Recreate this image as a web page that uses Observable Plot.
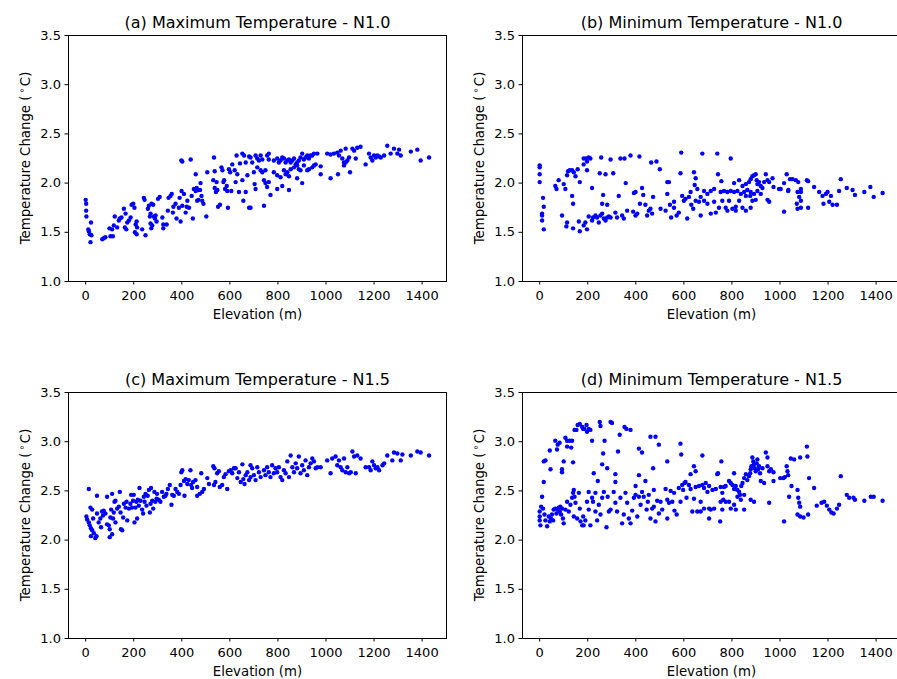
<!DOCTYPE html>
<html>
<head>
<meta charset="utf-8">
<script src="https://cdn.jsdelivr.net/npm/d3@7"></script>
<script src="https://cdn.jsdelivr.net/npm/@observablehq/plot@0.6"></script>
<style>
  html, body { margin: 0; padding: 0; background: #fff; }
  #wrap { position: relative; width: 897px; height: 679px; overflow: hidden; background: #fff; }
  .panel { position: absolute; width: 448px; height: 330px; }
  .panel svg { max-width: none !important; }
</style>
</head>
<body>
<div id="wrap"></div>
<script>
// ---- Data: [elevation (m), temperature change (°C)] ----
const maxN10 = [
[0,1.83],[2,1.79],[2,1.72],[3,1.66],[22,1.60],[11,1.53],[13,1.51],[17,1.48],[24,1.47],[20,1.40],
[69,1.43],[75,1.44],[82,1.45],[103,1.46],[113,1.46],[99,1.54],[110,1.53],[117,1.57],[121,1.66],[131,1.55],[138,1.62],[142,1.64],[149,1.65],[159,1.74],[166,1.69],[163,1.55],[169,1.53],[173,1.60],[180,1.62],[187,1.65],[191,1.78],[198,1.79],[203,1.75],[212,1.61],[208,1.58],[214,1.55],[205,1.50],[212,1.48],[235,1.53],[242,1.85],[245,1.83],[249,1.47],[259,1.74],[263,1.77],[270,1.69],[267,1.66],[274,1.79],[281,1.78],[284,1.66],[288,1.64],[291,1.67],[295,1.61],[270,1.59],[277,1.57],[273,1.54],[301,1.84],[308,1.86],[319,1.65],[323,1.58],[323,1.54],[337,1.58],[342,1.72],[345,1.85],[353,1.87],[358,1.89],[365,1.76],[363,1.70],[374,1.79],[378,1.64],[388,1.75],[391,1.85],[395,1.61],[399,1.92],[402,1.77],[409,1.89],[416,1.70],[423,1.82],[420,1.76],[430,1.75],[441,1.87],[446,1.64],[450,1.94],[458,1.92],[464,1.82],[469,1.83],[476,1.93],[478,2.00],[482,1.87],[485,1.82],[490,1.79],[502,1.66],[506,2.11],[458,2.09],[462,1.95],[469,1.93],[398,2.23],[402,2.22],[437,2.24],[534,2.26],[537,2.12],[531,2.03],[537,1.95],[545,2.01],[542,1.91],[548,1.93],[551,1.76],[559,1.78],[565,2.16],[569,2.13],[573,2.01],[576,2.03],[580,1.94],[587,1.97],[589,1.92],[592,1.75],[596,2.14],[601,2.11],[606,1.92],[610,2.19],[620,2.13],[624,2.01],[628,2.28],[631,2.09],[638,1.91],[642,2.20],[652,2.30],[652,2.03],[656,1.82],[659,2.28],[666,2.21],[666,1.91],[673,2.08],[680,1.75],[680,2.27],
[686,2.26],[693,2.21],[707,2.28],[714,2.25],[721,2.23],[728,2.28],[735,2.24],[755,2.28],[762,2.30],[762,2.24],[783,2.23],[797,2.25],[804,2.21],[811,2.23],[818,2.26],[825,2.25],[832,2.21],[839,2.23],[846,2.24],[853,2.21],[860,2.23],[867,2.25],[874,2.19],[880,2.21],[887,2.23],[894,2.26],[901,2.30],[908,2.24],[915,2.26],[922,2.28],[929,2.25],[936,2.28],[943,2.28],[950,2.30],[964,2.30],
[700,2.11],[714,2.16],[728,2.13],[735,2.11],[748,2.13],[783,2.11],[797,2.08],[811,2.06],[825,2.13],[832,2.09],[839,2.11],[846,2.07],[853,2.14],[867,2.16],[880,2.18],[887,2.14],[894,2.13],[908,2.18],[922,2.13],[929,2.14],[943,2.16],[950,2.18],[957,2.19],[978,2.17],[978,2.09],
[703,1.99],[707,1.94],[742,2.03],[748,2.00],[755,1.96],[762,2.01],[797,1.94],[818,1.97],[846,1.93],[880,2.05],[901,2.00],[769,1.88],[742,1.77],[686,1.75],
[1005,2.30],[1019,2.29],[1033,2.30],[1047,2.31],[1054,2.28],[1061,2.33],[1068,2.25],[1075,2.21],[1082,2.35],[1089,2.23],[1096,2.26],[1110,2.35],[1117,2.33],[1124,2.25],[1130,2.36],[1144,2.37],[1165,2.19],[1179,2.30],[1186,2.26],[1193,2.23],[1200,2.28],[1207,2.26],[1214,2.28],[1221,2.27],[1228,2.26],[1242,2.28],[1255,2.38],[1269,2.30],[1283,2.35],[1297,2.30],[1304,2.34],[1311,2.28],[1353,2.32],[1380,2.34],[1394,2.23],[1429,2.26],[1019,2.05],[1050,2.09],[1100,2.11],[1075,2.18],[1082,2.21]
];

const minN10 = [
[0,2.18],[0,2.16],[0,2.09],[0,2.01],[14,1.85],[17,1.76],[10,1.69],[10,1.67],[10,1.62],[17,1.53],
[65,1.97],[70,1.94],[79,2.03],[93,1.67],[100,1.99],[107,1.94],[114,2.08],[118,2.12],[125,2.13],[135,2.13],[142,2.11],[149,2.07],[158,2.14],[167,2.01],[135,1.87],[139,1.79],[183,2.19],[183,2.25],[193,2.25],[197,2.22],[204,2.26],[211,2.25],[197,2.13],[218,1.95],[114,1.60],[111,1.56],[139,1.54],[163,1.61],[167,1.51],[183,1.57],[190,1.60],[197,1.53],[204,1.66],[218,1.62],[222,1.65],[232,1.67],[239,1.65],[246,1.60],[253,1.67],[260,1.69],[267,1.64],[274,1.62],[281,1.65],[288,1.66],[295,1.65],[260,1.79],[264,1.88],[281,1.78],[256,2.26],[250,2.10],[274,2.09],[295,2.24],[306,2.10],[315,1.70],[322,1.65],[329,1.87],[343,1.67],[350,1.64],[336,2.25],[353,2.25],[358,2.00],[364,1.72],[378,2.28],[392,1.90],[399,1.91],[389,1.71],[399,1.67],[406,1.69],[415,2.27],[417,1.79],[426,1.95],[431,1.88],[440,1.78],[447,1.67],[454,1.72],[461,1.74],[468,1.69],[472,1.86],[464,2.21],[486,2.22],[500,2.14],[503,1.74],[524,1.72],[531,2.01],[538,2.01],[531,1.89],[542,1.78],[547,1.65],[559,1.81],[559,1.75],[570,1.67],[579,1.70],[586,2.10],[589,2.31],[593,1.87],[600,1.82],[607,1.84],[614,1.64],[621,1.86],[628,1.91],[631,1.78],[639,1.74],[642,2.11],[649,2.05],[645,1.98],[649,1.82],[656,1.94],[663,1.81],
[677,2.30],[739,2.30],[795,2.25],[742,2.09],[756,2.02],[809,2.00],[830,2.03],[844,1.97],[858,1.99],[871,2.01],[878,2.04],[885,2.07],[892,2.08],[899,2.09],[903,2.03],[906,1.99],[913,2.01],[920,1.97],[927,1.95],[934,2.01],[941,2.09],[948,2.03],[955,2.01],[969,2.05],[973,1.96],[996,1.94],[1017,2.00],[1028,2.09],[1034,1.92],[1042,2.04],[1052,2.04],[1066,2.03],[1076,2.01],[1087,1.94],[1087,1.91],[1112,2.03],[1117,2.02],[1142,1.96],[1163,1.91],[1177,1.87],[1191,1.89],[1198,1.91],[1212,1.87],[1181,1.79],[1205,1.81],[1219,1.78],[1237,1.78],[1246,1.92],[1253,2.04],[1278,1.95],[1302,1.93],[1312,1.88],[1351,1.91],[1376,1.96],[1390,1.86],[1427,1.90],
[684,1.92],[698,1.89],[712,1.92],[726,1.94],[753,1.91],[767,1.92],[781,1.91],[795,1.92],[809,1.91],[823,1.92],[837,1.89],[851,1.91],[864,1.93],[878,1.91],[892,1.89],[906,1.92],[920,1.89],
[670,1.86],[684,1.82],[698,1.79],[726,1.81],[746,1.75],[760,1.82],[774,1.75],[788,1.82],[802,1.74],[816,1.76],[830,1.82],[844,1.75],[858,1.72],[878,1.75],[885,1.82],[899,1.83],[948,1.83],[955,1.81],[1003,1.94],[1017,1.71],[1035,1.93],[1073,1.91],[1080,1.86],[1087,1.82],[1070,1.79],[1073,1.74],[1087,1.75],[1117,1.75],[670,1.67],[712,1.69],[733,1.70],[781,1.72],[816,1.72],[858,1.87],[876,1.87]
];

const maxN15 = [
[13,2.52],[20,2.33],[27,2.31],[3,2.24],[6,2.21],[13,2.18],[17,2.15],[22,2.12],[27,2.10],[34,2.07],[22,2.04],[40,2.02],[45,2.04],[31,2.22],[47,2.27],[47,2.45],[54,2.18],[61,2.22],[64,2.13],[68,2.29],[72,2.25],[75,2.30],[82,2.27],[89,2.44],[89,2.16],[96,2.15],[100,2.11],[100,2.03],[103,2.23],[106,2.31],[110,2.47],[110,2.06],[114,2.22],[117,2.28],[120,2.39],[124,2.40],[124,2.18],[131,2.32],[138,2.34],[142,2.49],[145,2.28],[147,2.11],[152,2.10],[156,2.23],[159,2.37],[166,2.33],[170,2.39],[173,2.20],[180,2.32],[186,2.37],[189,2.46],[193,2.33],[197,2.40],[200,2.46],[203,2.18],[207,2.33],[211,2.39],[214,2.22],[217,2.41],[221,2.35],[224,2.53],[228,2.40],[235,2.31],[239,2.27],[242,2.44],[245,2.39],[249,2.47],[253,2.35],[258,2.45],[263,2.51],[267,2.28],[270,2.37],[272,2.53],[277,2.40],[281,2.32],[286,2.49],[290,2.39],[295,2.42],[297,2.47],[304,2.41],[311,2.39],[318,2.49],[325,2.44],[332,2.45],[336,2.47],[342,2.52],[350,2.56],[357,2.36],[360,2.46],[367,2.45],[374,2.52],[381,2.49],[388,2.47],[395,2.56],[398,2.69],[402,2.71],[409,2.60],[411,2.45],[416,2.62],[423,2.57],[429,2.61],[436,2.71],[439,2.56],[443,2.53],[447,2.59],[457,2.61],[464,2.54],[464,2.45],[475,2.47],[481,2.68],[485,2.49],[492,2.52],[506,2.63],[513,2.57],[531,2.75],[534,2.56],[536,2.73],[540,2.59],[547,2.68],[554,2.70],[558,2.54],[568,2.56],[575,2.64],[582,2.67],[589,2.52],[596,2.70],[603,2.71],[610,2.68],[617,2.73],[624,2.73],[631,2.63],[638,2.69],[645,2.59],[652,2.77],[656,2.62],[661,2.57],[666,2.66],[673,2.69],[680,2.61],[686,2.64],
[686,2.76],[693,2.73],[700,2.66],[707,2.61],[714,2.74],[721,2.69],[728,2.64],[742,2.71],[748,2.66],[755,2.74],[762,2.69],[769,2.64],[776,2.76],[783,2.68],[790,2.73],[797,2.69],[804,2.74],[811,2.64],[818,2.61],[825,2.71],[832,2.68],[839,2.80],[846,2.64],[853,2.86],[860,2.74],[867,2.69],[874,2.78],[880,2.73],[887,2.85],[894,2.68],[901,2.76],[908,2.71],[915,2.81],[922,2.66],[929,2.74],[936,2.78],[943,2.83],[950,2.80],[957,2.73],[964,2.74],[978,2.74],[1005,2.81],[1019,2.68],[1026,2.83],[1040,2.85],[1047,2.76],[1054,2.81],[1061,2.74],[1068,2.71],[1075,2.83],[1082,2.69],[1089,2.74],[1096,2.68],[1103,2.69],[1110,2.90],[1117,2.85],[1124,2.68],[1130,2.86],[1144,2.83],[1165,2.74],[1179,2.74],[1186,2.71],[1193,2.80],[1200,2.76],[1207,2.73],[1214,2.74],[1221,2.71],[1235,2.76],[1242,2.78],[1255,2.86],[1276,2.81],[1283,2.89],[1297,2.88],[1311,2.81],[1318,2.87],[1353,2.86],[1380,2.90],[1394,2.89],[1429,2.86]
];

const minN15 = [
[10,2.44],[6,2.34],[0,2.29],[0,2.24],[0,2.20],[3,2.15],[14,2.32],[20,2.26],[24,2.20],[31,2.14],[38,2.24],[42,2.19],[47,2.22],[51,2.26],[56,2.20],[58,2.31],[65,2.32],[70,2.27],[75,2.31],[79,2.33],[83,2.29],[86,2.34],[89,2.26],[93,2.32],[97,2.22],[100,2.17],[107,2.31],[114,2.39],[121,2.29],[128,2.36],[135,2.43],[139,2.48],[142,2.51],[142,2.24],[145,2.44],[149,2.38],[156,2.22],[163,2.48],[167,2.32],[170,2.19],[177,2.15],[181,2.24],[183,2.15],[190,2.20],[197,2.39],[204,2.49],[204,2.31],[211,2.15],[218,2.43],[222,2.39],[232,2.48],[232,2.29],[239,2.20],[246,2.36],[253,2.26],[260,2.43],[267,2.49],[278,2.13],[283,2.44],[288,2.29],[295,2.31],[308,2.49],[315,2.38],[322,2.29],[336,2.43],[343,2.17],[350,2.26],[357,2.48],[364,2.38],[371,2.22],[378,2.17],[385,2.30],[392,2.43],[399,2.46],[399,2.55],[406,2.24],[413,2.44],[420,2.36],[426,2.49],[433,2.44],[440,2.60],[445,2.31],[450,2.39],[454,2.46],[461,2.22],[468,2.32],[475,2.51],[475,2.34],[482,2.19],[489,2.40],[496,2.27],[503,2.39],[510,2.31],[524,2.52],[531,2.41],[531,2.22],[538,2.38],[545,2.50],[552,2.39],[559,2.48],[561,2.30],[570,2.26],[579,2.53],[586,2.39],[593,2.56],[597,2.51],[603,2.58],[607,2.59],[611,2.43],[621,2.56],[628,2.52],[635,2.29],[642,2.42],[649,2.54],[656,2.29],[663,2.55],
[17,2.80],[24,2.81],[45,2.72],[17,2.59],[42,2.91],[65,3.01],[75,2.97],[72,2.92],[83,2.99],[93,2.72],[93,2.69],[100,2.80],[107,3.04],[114,3.01],[114,2.95],[125,3.01],[131,2.94],[135,3.01],[139,2.79],[145,3.12],[153,3.12],[158,3.17],[167,3.18],[177,3.15],[181,3.13],[186,3.13],[195,3.17],[197,3.10],[204,3.13],[211,3.12],[218,3.01],[225,2.68],[242,2.60],[250,3.20],[253,3.16],[264,2.88],[260,2.77],[270,3.01],[281,2.73],[295,3.20],[301,3.19],[315,2.67],[315,2.59],[326,2.90],[333,3.07],[353,3.15],[361,3.13],[378,3.12],[413,2.66],[413,2.93],[426,2.89],[461,3.05],[482,3.05],[472,2.73],[496,2.97],[531,2.80],[586,2.98],[589,2.87],[642,2.75],[649,2.70],[628,2.67],
[677,2.86],[756,2.80],[742,2.68],[739,2.67],[809,2.68],[691,2.58],[677,2.56],[684,2.53],[698,2.49],[705,2.55],[719,2.51],[733,2.52],[753,2.54],[767,2.54],[760,2.48],[764,2.41],[753,2.39],[774,2.55],[788,2.60],[795,2.58],[802,2.56],[809,2.52],[816,2.55],[823,2.51],[830,2.49],[834,2.46],[839,2.55],[844,2.58],[851,2.63],[858,2.67],[864,2.61],[871,2.65],[876,2.68],[878,2.72],[881,2.75],[885,2.84],[889,2.80],[892,2.77],[895,2.73],[899,2.70],[903,2.78],[906,2.82],[909,2.72],[913,2.75],[917,2.68],[920,2.60],[927,2.73],[934,2.58],[941,2.89],[948,2.84],[948,2.75],[955,2.70],[962,2.72],[973,2.60],[973,2.69],[1001,2.63],[1014,2.63],[1020,2.64],[1028,2.75],[1031,2.70],[1034,2.66],[1045,2.83],[1048,2.55],[1059,2.82],[1084,2.84],[1112,2.95],[1114,2.85],[1121,2.63],[1142,2.53],[1038,2.44],[1073,2.51],[1076,2.43],[1080,2.38],[1084,2.34],[1073,2.26],[1084,2.24],[1098,2.23],[1117,2.26],
[670,2.39],[684,2.32],[705,2.32],[726,2.32],[760,2.31],[788,2.39],[809,2.36],[816,2.31],[837,2.41],[851,2.31],[878,2.41],[892,2.39],[955,2.38],[712,2.31],[670,2.29],[705,2.22],[751,2.19],[1017,2.19],[1153,2.35],[1173,2.38],[1184,2.39],[1195,2.35],[1205,2.31],[1214,2.28],[1223,2.27],[1237,2.32],[1246,2.36],[1253,2.65],[1278,2.46],[1288,2.43],[1306,2.43],[1312,2.41],[1351,2.40],[1378,2.44],[1390,2.44],[1427,2.40],[774,2.39],[823,2.44],[795,2.32],[851,2.46]
];

const xTicks = [0, 200, 400, 600, 800, 1000, 1200, 1400];
const yTicks = [1.0, 1.5, 2.0, 2.5, 3.0, 3.5];
const titles = [
  "(a) Maximum Temperature - N1.0",
  "(b) Minimum Temperature - N1.0",
  "(c) Maximum Temperature - N1.5",
  "(d) Minimum Temperature - N1.5"
];
const xLabel = "Elevation (m)";
const yLabelMain = "Temperature Change (";
const yLabelSup = "\u2218";
const yLabelEnd = "C)";

// ---- Layout ----
const panels = [
  {data: maxN10, title: titles[0], left: 0,   top: 0},
  {data: minN10, title: titles[1], left: 454, top: 0},
  {data: maxN15, title: titles[2], left: 0,   top: 357},
  {data: minN15, title: titles[3], left: 454, top: 357}
];

const W = 448, H = 330, ML = 68, MR = 2, MT = 35, MB = 49;
const font = "DejaVu Sans, sans-serif";
const wrap = document.getElementById("wrap");

for (const p of panels) {
  const svg = Plot.plot({
    width: W, height: H,
    marginLeft: ML, marginRight: MR, marginTop: MT, marginBottom: MB,
    style: {fontFamily: font, fontSize: "13px", color: "#000", background: "#fff", overflow: "visible", maxWidth: "none"},
    x: {domain: [-71.5, 1501.5]},
    y: {domain: [1.0, 3.5]},
    marks: [
      Plot.axisX({ticks: xTicks, tickFormat: d => String(d), tickSize: 3.5, tickPadding: 5.5, fontSize: 13, label: null}),
      Plot.axisY({ticks: yTicks, tickFormat: d3.format(".1f"), tickSize: 3.5, tickPadding: 4, fontSize: 13, label: null}),
      Plot.dot(p.data, {x: d => d[0], y: d => d[1], r: 2.2, fill: "#0000ff"}),
      Plot.frame({stroke: "#000", strokeWidth: 1}),
      Plot.text([p.title], {text: d => d, frameAnchor: "top", lineAnchor: "middle", dy: -13, fontSize: 16, fill: "#000"}),
      Plot.text([xLabel], {text: d => d, frameAnchor: "bottom", lineAnchor: "middle", dy: 33, fontSize: 13.3, fill: "#000"})
    ]
  });
  // rotated y-axis label with superscript degree ring
  const cy = MT + (H - MT - MB) / 2;
  const t = d3.select(svg).append("text")
    .attr("transform", `translate(25,${cy}) rotate(-90)`)
    .attr("text-anchor", "middle")
    .attr("dy", "0.35em")
    .attr("font-family", font)
    .attr("font-size", 13.3)
    .attr("fill", "#000");
  t.append("tspan").text(yLabelMain);
  t.append("tspan").attr("dx", 2).attr("dy", -5).attr("font-size", 9.5).text(yLabelSup);
  t.append("tspan").attr("dx", 1.5).attr("dy", 5).text(yLabelEnd);

  const div = document.createElement("div");
  div.className = "panel";
  div.style.left = p.left + "px";
  div.style.top = p.top + "px";
  div.appendChild(svg);
  wrap.appendChild(div);
}
</script>
</body>
</html>
